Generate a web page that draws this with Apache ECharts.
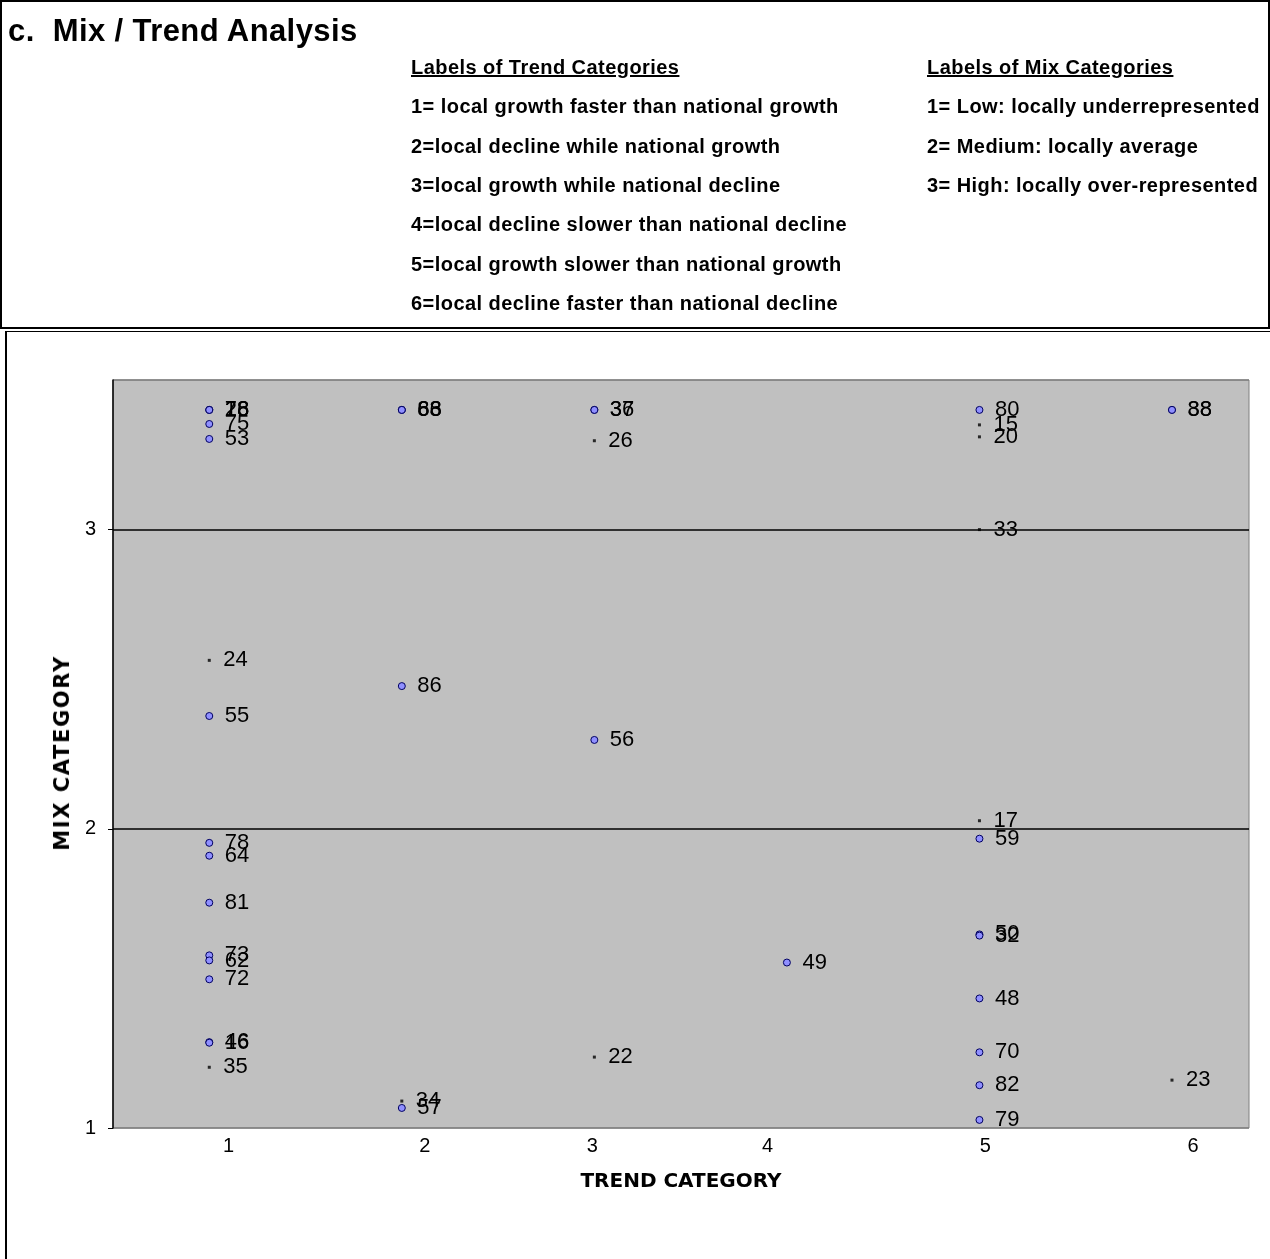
<!DOCTYPE html>
<html>
<head>
<meta charset="utf-8">
<script src="https://cdn.jsdelivr.net/npm/echarts@6/dist/echarts.min.js"></script>
<style>
  html, body { margin: 0; padding: 0; background: #fff; }
  #wrap { position: relative; width: 1270px; height: 1259px; overflow: hidden; font-family: "Liberation Sans", Arial, sans-serif; }
  #chart { position: absolute; left: 0; top: 0; width: 1270px; height: 1259px; }
  .hdr { position: absolute; left: 0; top: 0; width: 1266px; height: 325px; border: 2px solid #000; }
  .cbox { position: absolute; left: 5px; top: 331px; width: 1280px; height: 1000px; border-left: 2px solid #000; border-top: 1px solid #000; }
  .t { position: absolute; white-space: pre; font-weight: bold; color: #000; }
  .title { left: 8px; top: 14px; font-size: 31px; line-height: 34px; letter-spacing: 0.4px; }
  .lg { font-size: 20px; line-height: 22px; letter-spacing: 0.45px; }
  .u { text-decoration: underline; }
  .yname { position: absolute; left: 62px; top: 753px; transform: translate(-50%, -50%) rotate(-90deg);
           font-family: "DejaVu Sans", sans-serif; font-weight: bold; font-size: 21px; letter-spacing: 1.6px; white-space: pre; color: #000; }
</style>
</head>
<body>
<div id="wrap">
  <div class="hdr"></div>
  <div class="cbox"></div>
  <div id="chart"></div>
  <div id="legend"></div>
</div>
<script>
// ---------- data ----------
const titleText = "c.  Mix / Trend Analysis";
const trendHeading = "Labels of Trend Categories";
const trendLabels = [
  "1= local growth faster than national growth",
  "2=local decline while national growth",
  "3=local growth while national decline",
  "4=local decline slower than national decline",
  "5=local growth slower than national growth",
  "6=local decline faster than national decline"
];
const mixHeading = "Labels of Mix Categories";
const mixLabels = [
  "1= Low: locally underrepresented",
  "2= Medium: locally average",
  "3= High: locally over-represented"
];
const xAxisName = "TREND CATEGORY";
const yAxisName = "MIX CATEGORY";

// circle markers: trend, mix, id
const circleTrend = [1, 1, 1, 1, 1, 1, 1, 1, 1, 1, 1, 1, 1, 1,
                     2, 2, 2, 2, 2,
                     3, 3, 3,
                     4,
                     5, 5, 5, 5, 5, 5, 5, 5,
                     6, 6];
const circleMix   = [3.40, 3.40, 3.40, 3.353, 3.303, 2.377, 1.953, 1.91, 1.753, 1.577, 1.56, 1.497, 1.287, 1.285,
                     3.40, 3.40, 3.40, 2.477, 1.067,
                     3.40, 3.40, 2.297,
                     1.553,
                     3.40, 1.967, 1.647, 1.643, 1.433, 1.253, 1.143, 1.027,
                     3.40, 3.40];
const circleIds   = ["28", "18", "76", "75", "53", "55", "78", "64", "81", "73", "62", "72", "46", "16",
                     "83", "66", "68", "86", "57",
                     "37", "36", "56",
                     "49",
                     "80", "59", "50", "32", "48", "70", "82", "79",
                     "38", "88"];

// dot (small square) markers
const dotTrend = [1, 1, 2, 3, 3, 5, 5, 5, 5, 6];
const dotMix   = [2.563, 1.203, 1.09, 3.297, 1.237, 3.35, 3.31, 3.0, 2.027, 1.16];
const dotIds   = ["24", "35", "34", "26", "22", "15", "20", "33", "17", "23"];

// axis
const yTicks = [1, 2, 3];
const xTickLabels = ["1", "2", "3", "4", "5", "6"];
const xTickLabelPos = [1.10, 2.12, 2.99, 3.90, 5.03, 6.11];

// ---------- header (HTML text) ----------
const lg = document.getElementById('legend');
function addText(txt, left, centerY, cls) {
  const d = document.createElement('div');
  d.className = 't ' + cls;
  d.textContent = txt;
  d.style.left = left + 'px';
  d.style.top = (centerY - 11) + 'px';
  lg.appendChild(d);
}
const tdiv = document.createElement('div');
tdiv.className = 't title';
tdiv.textContent = titleText;
lg.appendChild(tdiv);
const rowY = [106, 146, 185, 224, 264, 303];
addText(trendHeading, 411, 67, 'lg u');
trendLabels.forEach((s, i) => addText(s, 411, rowY[i], 'lg'));
addText(mixHeading, 927, 67, 'lg u');
mixLabels.forEach((s, i) => addText(s, 927, rowY[i], 'lg'));
const yn = document.createElement('div');
yn.className = 'yname';
yn.textContent = yAxisName;
lg.appendChild(yn);

// ---------- chart ----------
const chart = echarts.init(document.getElementById('chart'), null, { renderer: 'canvas' });
const lblFont = { fontFamily: '"Liberation Sans", Arial, sans-serif', fontSize: 22, color: '#000', opacity: 1 };
const tickFont = { fontFamily: '"Liberation Sans", Arial, sans-serif', fontSize: 20, color: '#000', opacity: 1 };

const circleData = circleTrend.map((t, i) => [t, circleMix[i], circleIds[i]]);
const dotData = dotTrend.map((t, i) => [t, dotMix[i], dotIds[i]]);
const xLabelData = xTickLabelPos.map((p, i) => [p, 1, xTickLabels[i]]);

chart.setOption({
  animation: false,
  grid: {
    left: 113, top: 380, right: 21, bottom: 131,
    show: true, backgroundColor: '#C0C0C0', borderColor: '#808080', borderWidth: 1
  },
  xAxis: {
    type: 'value', min: 0.5, max: 6.4,
    axisLine: { show: false }, axisTick: { show: false },
    axisLabel: { show: false }, splitLine: { show: false },
    name: xAxisName, nameLocation: 'middle', nameGap: 44,
    nameTextStyle: { fontFamily: '"DejaVu Sans", sans-serif', fontWeight: 'bold', fontSize: 20, color: '#000' }
  },
  yAxis: {
    type: 'value', min: 1, max: 3.5, interval: 1,
    axisLine: { show: true, lineStyle: { color: '#000', width: 1.5 } },
    axisTick: { show: true, length: 5, lineStyle: { color: '#000' } },
    axisLabel: {
      ...tickFont, margin: 17, showMaxLabel: false,
      formatter: v => (yTicks.indexOf(v) >= 0 ? String(v) : '')
    },
    splitLine: { show: true, lineStyle: { color: ['#808080', '#000', '#000', '#808080'], width: 1.5 } }
  },
  series: [
    {
      type: 'scatter', data: circleData, symbol: 'circle', symbolSize: 7,
      itemStyle: { color: '#9090FF', borderColor: '#000060', borderWidth: 1, opacity: 1 },
      label: { show: true, position: 'right', distance: 11.5, formatter: p => p.data[2], ...lblFont },
      labelLayout: { hideOverlap: false }
    },
    {
      type: 'scatter', data: dotData, symbol: 'rect', symbolSize: 3,
      itemStyle: { color: '#000' },
      label: { show: true, position: 'right', distance: 12.5, formatter: p => p.data[2], ...lblFont },
      labelLayout: { hideOverlap: false }
    },
    {
      type: 'scatter', data: xLabelData, symbolSize: 0, silent: true, clip: false,
      label: { show: true, position: 'bottom', distance: 8, formatter: p => p.data[2], ...tickFont }
    }
  ]
});
</script>
</body>
</html>
